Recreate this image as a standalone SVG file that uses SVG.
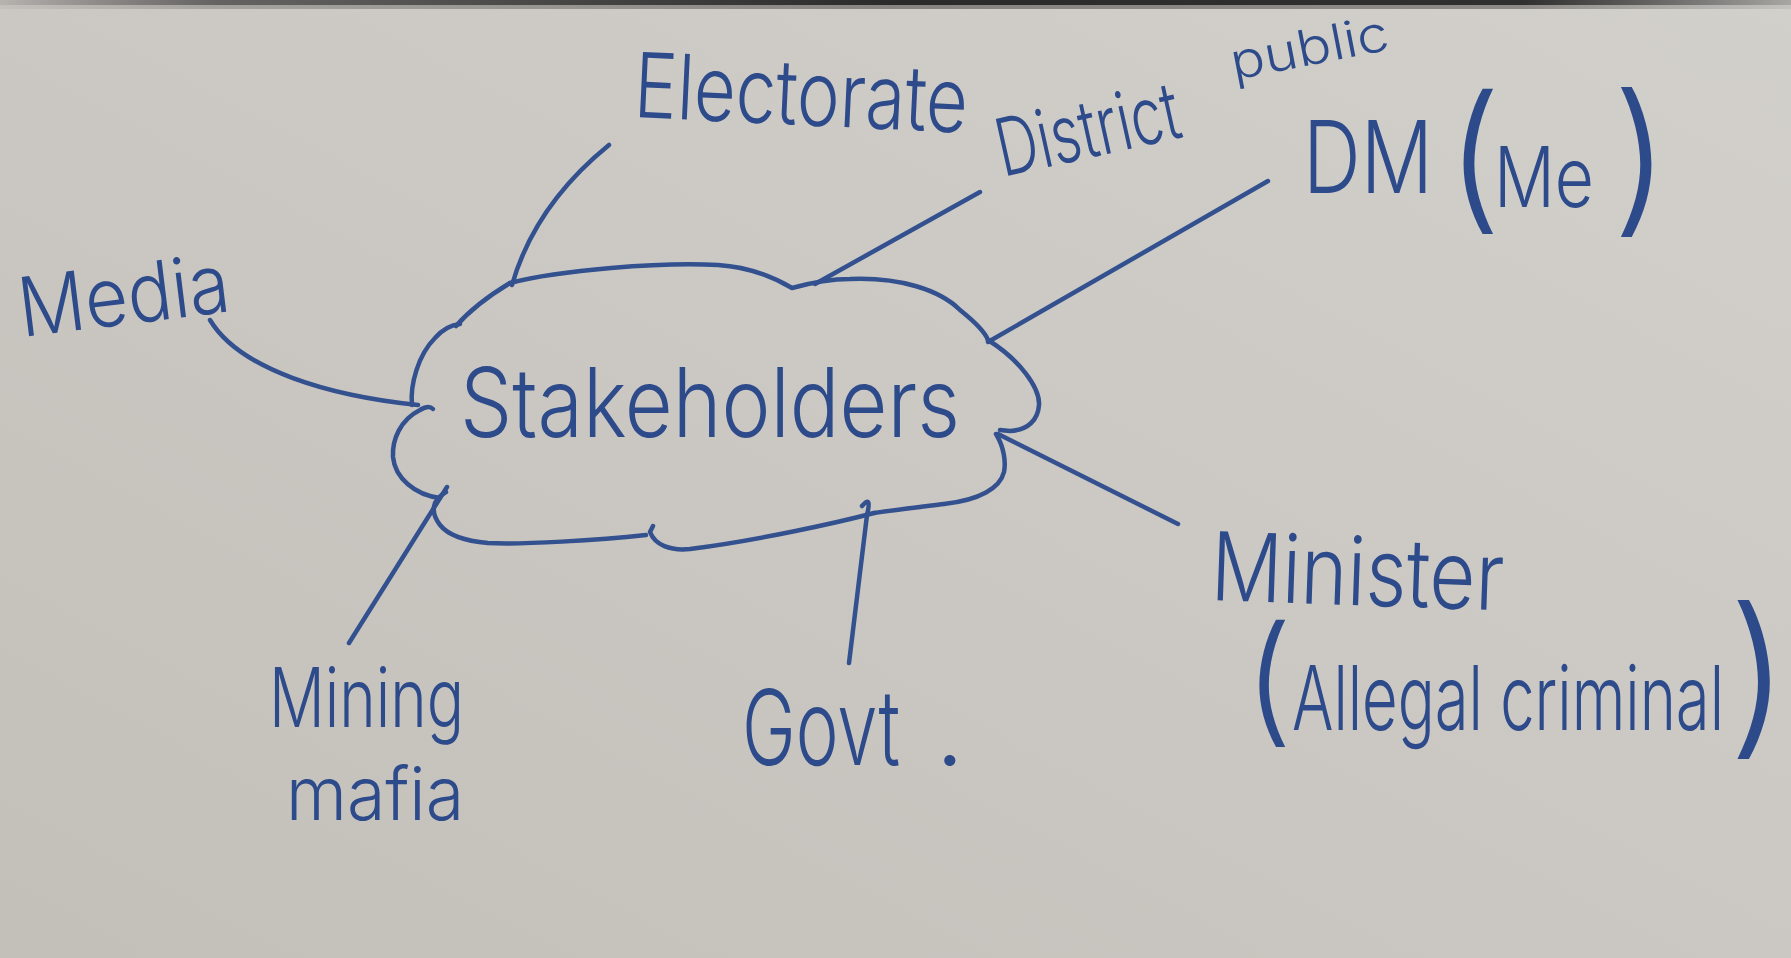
<svg xmlns="http://www.w3.org/2000/svg" width="1791" height="958" viewBox="0 0 1791 958">
  <defs>
    <linearGradient id="paper" x1="1" y1="0" x2="0" y2="1">
      <stop offset="0" stop-color="#d2d0cb"/>
      <stop offset="0.5" stop-color="#cbc8c3"/>
      <stop offset="1" stop-color="#c3c0ba"/>
    </linearGradient>
    <linearGradient id="edge" x1="0" y1="0" x2="1" y2="0">
      <stop offset="0" stop-color="#3a3a3a" stop-opacity="0.1"/>
      <stop offset="0.12" stop-color="#3a3a3a" stop-opacity="0.6"/>
      <stop offset="0.5" stop-color="#262626" stop-opacity="0.95"/>
      <stop offset="0.85" stop-color="#262626" stop-opacity="0.9"/>
      <stop offset="1" stop-color="#3a3a3a" stop-opacity="0.2"/>
    </linearGradient>
    <style>
      .ink { fill: #2d4a8b; font-family: Inter, "Liberation Sans", sans-serif; font-weight: 350; }
      .stroke { fill: none; stroke: #33508f; stroke-width: 4.5; stroke-linecap: round; stroke-linejoin: round; }
    </style>
  </defs>

  <!-- sheet of paper with the shadowed top edge -->
  <rect x="0" y="0" width="1791" height="958" fill="url(#paper)"/>
  <rect x="0" y="0" width="1791" height="9" fill="url(#edge)" opacity="0.45"/>
  <rect x="0" y="0" width="1791" height="5" fill="url(#edge)"/>

  <!-- spokes from the cloud to each stakeholder -->
  <g id="connectors" class="stroke">
    <path d="M210,320 C240,370 330,396 418,405"/>
    <path d="M512,285 Q535,205 609,145"/>
    <path d="M815,284 L980,192"/>
    <path d="M988,342 L1268,181"/>
    <path d="M998,434 L1178,524"/>
    <path d="M862,506 Q872,494 867,515 Q858,590 849,663"/>
    <path d="M447,487 L349,643"/>
  </g>

  <!-- central cloud -->
  <g id="node-stakeholders">
    <g class="stroke">
      <path d="M510,283 C560,270 660,262 718,265 C750,267 775,278 792,288 C810,283 830,279 850,279 C900,277 940,290 960,310 C975,322 985,332 988,340"/>
      <path d="M988,340 C1020,360 1040,388 1039,405 C1038,420 1028,430 1010,431 L1000,430"/>
      <path d="M996,434 C1004,447 1006,462 1004,472 C1000,488 980,500 944,504 C920,507 895,510 874,513"/>
      <path d="M874,513 C840,522 760,540 690,549 C670,551 655,545 650,532 L653,526"/>
      <path d="M646,535 C600,540 520,545 488,543 C465,541 448,535 440,525 C430,512 432,500 446,492"/>
      <path d="M440,498 C415,495 395,478 393,457 C392,440 400,420 420,410 C425,407 430,406 433,409"/>
      <path d="M412,405 C410,385 418,355 435,338 C442,330 450,325 460,324"/>
      <path d="M456,326 C470,310 490,295 510,283"/>
    </g>
    <text class="ink" x="460" y="437" font-size="96" textLength="500" lengthAdjust="spacingAndGlyphs">Stakeholders</text>
  </g>

  <g id="node-media">
    <text class="ink" x="22" y="337" font-size="82" textLength="212" lengthAdjust="spacingAndGlyphs" transform="rotate(-7 22 337)">Media</text>
  </g>

  <g id="node-electorate">
    <text class="ink" x="633" y="117" font-size="90" textLength="334" lengthAdjust="spacingAndGlyphs" transform="rotate(2.7 633 117)">Electorate</text>
  </g>

  <g id="node-district-public">
    <text class="ink" x="1003" y="177" font-size="80" textLength="186" lengthAdjust="spacingAndGlyphs" transform="rotate(-12.5 1003 177)">District</text>
    <text class="ink" x="1234" y="80" font-size="50" textLength="160" lengthAdjust="spacingAndGlyphs" transform="rotate(-11 1234 80)">public</text>
  </g>

  <g id="node-dm">
    <text class="ink" x="1303" y="193" font-size="100" textLength="130" lengthAdjust="spacingAndGlyphs">DM</text>
    <text class="ink" x="1446" y="212" font-size="160">(</text>
    <text class="ink" x="1494" y="207" font-size="84" textLength="100" lengthAdjust="spacingAndGlyphs">Me</text>
    <text class="ink" x="1612" y="214" font-size="165">)</text>
  </g>

  <g id="node-minister">
    <text class="ink" x="1210" y="600" font-size="95" textLength="293" lengthAdjust="spacingAndGlyphs" transform="rotate(2 1210 600)">Minister</text>
    <text class="ink" x="1244" y="728" font-size="140">(</text>
    <text class="ink" x="1292" y="730" font-size="90" textLength="432" lengthAdjust="spacingAndGlyphs">Allegal criminal</text>
    <text class="ink" x="1728" y="735" font-size="175">)</text>
  </g>

  <g id="node-govt">
    <text class="ink" x="742" y="765" font-size="105" textLength="158" lengthAdjust="spacingAndGlyphs">Govt</text>
    <text class="ink" x="935" y="765" font-size="105">.</text>
  </g>

  <g id="node-mining-mafia">
    <text class="ink" x="269" y="727" font-size="82" textLength="195" lengthAdjust="spacingAndGlyphs">Mining</text>
    <text class="ink" x="286" y="820" font-size="74" textLength="178" lengthAdjust="spacingAndGlyphs">mafia</text>
  </g>
</svg>
